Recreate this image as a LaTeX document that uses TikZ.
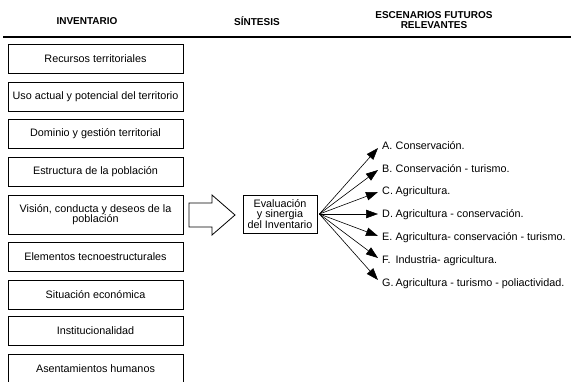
\documentclass[tikz,border=0pt]{standalone}
\usepackage{fontspec}
\setmainfont{Liberation Sans}
\usetikzlibrary{arrows.meta}

\tikzset{
	inv/.style = {draw, line width = 0.8pt, minimum width = 175pt, minimum height = 29pt, inner sep = 0pt, align = center, font = \fontsize{10.8}{10.5}\selectfont},
	head/.style = {font = \fontsize{10}{10.5}\selectfont\bfseries, align = center},
	fanarrow/.style = {line width = 0.6pt, -{Triangle[length = 12pt, width = 8.5pt]}},
	scen/.style = {anchor = west, inner sep = 0pt, font = \fontsize{10.8}{10.5}\selectfont}
}

\begin{document}
\begin{tikzpicture}[x = 1pt, y = -1pt]
					\useasboundingbox (0,0) rectangle (571,381);

					\begin{scope}
						\node [head] (hinv) at (87,21) {INVENTARIO};
						\node [head] (hsin) at (257,21) {SÍNTESIS};
						\node [head] (hesc) at (434,20) {ESCENARIOS FUTUROS\\RELEVANTES};
						\draw [line width = 2pt] (3,37) -- (571,37);
					\end{scope}

					\begin{scope}
						\node [inv] (rec) at (95.5,58.5) {Recursos territoriales};
						\node [inv] (uso) at (95.5,96.5) {Uso actual y potencial del territorio};
						\node [inv] (dom) at (95.5,134) {Dominio y gestión territorial};
						\node [inv] (est) at (95.5,172) {Estructura de la población};
						\node [inv, minimum height = 39pt] (vis) at (95.5,214.5) {Visión, conducta y deseos de la\\población};
						\node [inv] (ele) at (95.5,256.5) {Elementos tecnoestructurales};
						\node [inv] (sit) at (95.5,295) {Situación económica};
						\node [inv] (ins) at (95.5,331) {Institucionalidad};
						\node [inv] (ase) at (95.5,368.5) {Asentamientos humanos};
					\end{scope}

					\draw [line width = 0.8pt] (189,203) -- (212,203) -- (212,195) -- (235,215) -- (212,235) -- (212,227) -- (189,227) -- cycle;

					\node [inv, minimum width = 74pt, minimum height = 38pt] (eval) at (280,214) {Evaluación\\y sinergia\\del Inventario};
					\coordinate (fan) at ([xshift = 2pt]eval.east);

					\foreach \k/\txt [count = \i from 0] in {A/Conservación., B/Conservación - turismo., C/Agricultura., D/Agricultura - conservación., E/Agricultura- conservación - turismo., F/Industria- agricultura., G/Agricultura - turismo - poliactividad.}
					{
						\coordinate (tip\k) at (378,148+22*\i);
						\node [scen] (esc\k) at (382,146+23*\i) {\makebox[13.5pt][l]{\k.}\txt};
						\draw [fanarrow] (fan) -- (tip\k);
					}
				\end{tikzpicture}
\end{document}
